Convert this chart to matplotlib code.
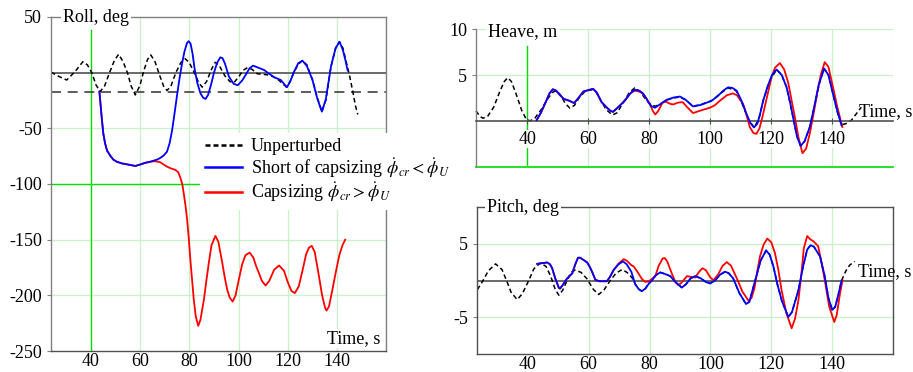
import matplotlib
matplotlib.use("Agg")
import matplotlib.pyplot as plt

plt.rcParams['font.family'] = ['Liberation Serif', 'DejaVu Serif']
plt.rcParams['mathtext.fontset'] = 'stix'
plt.rcParams['axes.unicode_minus'] = False

# ---------------- data: Roll ----------------
roll_unpert_t = [23.7, 26.5, 30.1, 33.5, 36.7, 38.5, 40.3, 42.0, 43.7, 45.5, 47.5, 49.5, 51.2, 53.0, 54.8,
                 56.3, 58.0, 59.8, 61.5, 63.0, 64.3, 66.0, 68.0, 69.5, 70.9, 72.5, 74.5, 76.5, 78.3, 80.0,
                 82.0, 83.8, 85.2, 87.0, 89.0, 90.5, 92.0, 94.5, 96.5, 98.1, 100.0, 101.8, 103.6, 105.5,
                 107.7, 110.0, 112.0, 114.0, 115.8, 117.5, 119.5, 121.0, 122.6, 124.5, 126.0, 127.8, 130.1,
                 132.0, 133.9, 135.5, 137.6, 139.5, 141.0, 142.5, 144.0, 145.1, 146.5, 147.5, 148.5]
roll_unpert_v = [0.5, -3, -6.6, 1, 9.9, 7, 0, -11, -17, -12, 0, 11, 16.5, 10, 0,
                 -12, -20, -12, 2, 12, 15.9, 10, -3, -12, -16, -12, 0, 9, 12.5, 9,
                 0, -9, -13, -8, 3, 9.3, 7, -3, -8, -9, -4, 2, 4.5, 3,
                 -1, -1.5, -2, -3.5, -5.6, -9, -13, -8, 0.9, 8, 10.8, 7, -6.6,
                 -22, -35, -25, 5.4, 22, 27.8, 22, 8, -2, -17, -29, -37.5]

roll_short_t = [43.4, 44.4, 45.0, 45.7, 46.5, 47.8, 49.0, 50.5, 52.5, 55.0, 58.0, 60.0, 62.0, 64.1,
                65.5, 67.0, 68.2, 69.5, 70.9, 72.0, 73.0, 74.0, 75.0, 76.0, 77.0, 78.0, 79.0, 79.7,
                80.5, 81.3, 82.1, 83.2, 84.5, 85.6, 86.6, 87.6, 88.8, 90.0, 91.3, 92.6, 93.5, 94.5,
                96.1, 98.0, 99.7, 101.5, 102.9, 104.5, 105.9, 108.0, 110.4, 112.5, 114.5, 117.2, 118.5,
                119.7, 121.0, 122.6, 124.3, 126.0, 127.8, 130.1, 132.0, 133.9, 135.5, 137.6, 139.5,
                141.1, 142.5, 143.5, 144.4]
roll_short_v = [-17, -42, -55, -63.4, -70, -74.5, -78, -80, -81.5, -82.5, -83.8, -82.5, -81, -80,
                -79, -78, -76.5, -74.5, -71, -63, -51.4, -36, -20, -5, 8, 19, 26.5, 28.3,
                26, 17, 4, -9, -18.5, -22.5, -23.6, -20, -11, 0, 9, 13.8, 13, 8,
                -3.6, -10, -11.3, -7, -2, 4, 6.3, 4.5, 2.4, -1, -4.1, -6.6, -10,
                -13.1, -8, 0.9, 8.5, 10.8, 6, -6.6, -23, -35, -24, 5.4, 22,
                27.8, 20, 11, 2]

roll_caps_t = [43.4, 44.4, 45.0, 45.7, 46.5, 47.8, 49.0, 50.5, 52.5, 55.0, 58.0, 60.0, 62.0, 64.1,
               66.0, 68.2, 69.5, 70.9, 72.5, 74.3, 75.5, 76.4, 77.1, 77.7, 78.4, 79.1, 79.8, 80.4,
               81.1, 81.8, 82.6, 83.6, 84.5, 85.2, 85.9, 86.9, 87.9, 89.0, 90.6, 91.8, 93.4, 94.4,
               95.4, 96.4, 97.6, 98.8, 100.1, 101.5, 102.8, 104.5, 106.0, 107.2, 108.3, 109.5, 111.0,
               112.5, 114.5, 116.5, 118.5, 120.0, 121.5, 122.9, 124.5, 126.0, 127.5, 128.7, 129.8,
               131.0, 132.5, 134.0, 135.2, 135.8, 136.8, 138.0, 139.5, 141.0, 142.3, 143.4]
roll_caps_v = [-17, -42, -55, -63.4, -70, -74.5, -78, -80, -81.5, -82.5, -83.8, -82.5, -81, -80,
               -79.5, -80.5, -82.5, -84.4, -86, -87.3, -89.5, -94.8, -100, -108.3, -119, -132.2, -150, -168,
               -186, -204, -219, -227.4, -222, -213, -204, -187, -171, -155, -146.6, -152, -171, -184,
               -195, -202, -205.6, -200, -186, -172, -164, -161.6, -166, -174, -180, -187, -191.2,
               -187, -177, -173.2, -178, -188, -196, -198, -192, -178, -163, -157, -155.6,
               -161, -180, -200, -211, -213.7, -210, -197, -180, -164, -155, -150]

roll_ref_level = -17.5

# ---------------- data: Heave ----------------
heave_unpert_t = [23.2, 24.5, 25.5, 27.0, 29.0, 31.0, 32.5, 33.6, 34.8, 36.3, 38.2, 39.5, 40.9, 42.5,
                  44.5, 46.5, 48.2, 49.6, 51.0, 52.5, 54.0, 55.5, 57.0, 58.9, 61.0, 62.5, 64.0, 66.0,
                  68.0, 69.5, 71.5, 73.5, 75.3, 77.0, 79.0, 80.5, 82.0, 84.0, 86.0, 88.0, 90.0, 92.0,
                  94.4, 97.0, 100.5, 103.0, 105.9, 108.5, 110.5, 112.5, 114.4, 116.0, 117.4, 119.5,
                  121.8, 123.5, 125.1, 127.2, 128.5, 129.7, 131.0, 132.7, 134.5, 136.0, 137.4, 139.0,
                  140.3, 141.8, 143.1, 144.5, 146.4, 148.0, 149.6]
heave_unpert_v = [1.1, 0.5, 0.3, 0.5, 1.5, 3.2, 4.3, 4.7, 4.3, 3.0, 1.15, 0.3, 0.0, 0.3,
                  1.2, 2.3, 3.1, 3.3, 2.8, 1.9, 1.4, 1.7, 2.5, 3.2, 3.4, 3.2, 2.3, 1.2,
                  0.65, 0.9, 2.0, 3.1, 3.6, 3.2, 2.3, 1.8, 1.6, 1.9, 2.3, 2.5, 2.6, 2.3,
                  1.6, 1.8, 2.2, 2.9, 3.6, 3.3, 1.9, 0.2, -0.7, 0.2, 2.2, 4.3,
                  5.6, 5.0, 3.66, 0.43, -1.7, -2.7, -2.2, -0.65, 2.0, 4.3, 5.7, 4.9,
                  2.95, 0.9, -0.4, -0.3, 0.1, 0.8, 1.5]

heave_short_t = [43.1, 44.5, 46.0, 47.3, 48.4, 49.5, 50.8, 52.0, 53.8, 55.4, 56.8, 58.4, 60.0, 61.6,
                 62.8, 64.4, 66.0, 67.3, 68.2, 69.5, 72.0, 73.8, 75.3, 76.8, 78.0, 79.0, 79.7, 80.8,
                 81.9, 83.5, 85.7, 88.0, 90.1, 92.0, 94.4, 97.0, 100.5, 102.5, 104.3, 105.9, 107.3,
                 108.7, 110.3, 111.9, 113.2, 114.4, 115.5, 116.5, 117.4, 118.8, 120.3, 121.8, 123.5,
                 125.1, 126.2, 127.2, 128.5, 129.7, 131.0, 132.7, 134.0, 135.6, 137.4, 138.8, 140.3,
                 141.8, 143.1]
heave_short_v = [0.1, 0.9, 2.0, 3.0, 3.45, 3.3, 2.8, 2.4, 2.2, 1.95, 2.5, 3.2, 3.35, 3.5,
                 3.1, 2.05, 1.5, 1.1, 1.0, 1.4, 2.2, 3.0, 3.4, 3.3, 3.0, 2.5, 2.05, 1.6,
                 1.44, 1.8, 2.3, 2.55, 2.66, 2.3, 1.58, 1.75, 2.2, 2.7, 3.3, 3.66, 3.6,
                 3.3, 2.2, 0.8, -0.2, -0.7, -0.3, 0.9, 2.2, 3.7, 5.0, 5.6, 5.0,
                 3.66, 2.1, 0.43, -1.7, -2.7, -2.2, -0.65, 1.3, 3.9, 5.7, 5.0, 2.95,
                 1.0, -0.46]

heave_caps_t = [43.1, 44.5, 46.0, 47.3, 48.4, 49.5, 50.8, 52.0, 53.8, 55.4, 56.8, 58.4, 60.0, 61.6,
                62.8, 64.4, 66.0, 67.3, 68.2, 69.5, 72.0, 73.8, 75.3, 76.8, 78.0, 79.2, 80.2, 81.2,
                82.0, 83.0, 84.4, 85.5, 87.0, 87.9, 89.5, 91.0, 92.5, 94.4, 96.5, 99.9, 101.5, 103.2,
                105.5, 107.5, 108.8, 110.8, 112.0, 113.0, 114.2, 115.2, 116.2, 117.2, 117.9, 119.0,
                120.1, 121.3, 122.9, 124.3, 125.6, 126.7, 127.8, 129.0, 130.3, 131.5, 132.7, 134.0,
                135.1, 136.3, 137.6, 138.8, 140.3, 141.8, 143.4]
heave_caps_v = [0.1, 0.9, 2.0, 3.0, 3.45, 3.3, 2.8, 2.4, 2.2, 1.95, 2.5, 3.2, 3.35, 3.5,
                3.1, 2.05, 1.5, 1.1, 1.0, 1.4, 2.2, 3.0, 3.3, 3.2, 2.95, 2.4, 1.87, 1.1,
                0.7, 1.1, 2.0, 2.1, 1.85, 1.8, 2.0, 2.05, 1.5, 0.86, 1.1, 1.44, 1.7, 2.2,
                2.8, 3.0, 2.8, 1.87, 0.6, -0.65, -1.3, -1.4, -0.8, 0.5, 1.5, 3.1,
                4.7, 5.8, 6.3, 5.6, 4.2, 2.3, 0.43, -1.8, -3.5, -3.0, -1.36, 0.9,
                2.95, 5.0, 6.4, 5.9, 3.7, 1.4, -0.65]

# ---------------- data: Pitch ----------------
pitch_unpert_t = [23.4, 25.0, 27.0, 29.4, 31.5, 33.0, 34.5, 36.5, 38.2, 40.3, 42.0, 44.2, 46.0, 47.5,
                  49.0, 50.2, 51.5, 52.9, 54.2, 55.6, 57.5, 59.5, 61.5, 63.3, 65.0, 67.1, 69.0, 71.0,
                  72.6, 74.2, 75.3, 76.5, 77.5, 78.6, 80.0, 80.8, 82.0, 83.5, 85.0, 86.8, 88.5, 90.6,
                  92.0, 93.5, 95.0, 96.8, 98.5, 99.9, 101.5, 103.2, 104.8, 106.0, 107.5, 109.5, 111.7,
                  112.8, 114.7, 116.5, 118.3, 119.5, 120.7, 122.0, 123.5, 125.6, 126.8, 128.9, 130.5,
                  131.8, 132.9, 134.0, 136.0, 137.5, 138.8, 140.0, 141.0, 142.0, 143.1, 144.5, 145.8, 147.4]
pitch_unpert_v = [-1.25, -0.2, 1.3, 2.26, 1.5, 0.0, -1.6, -2.6, -1.8, 0.0, 1.6, 2.4, 1.9, 0.6,
                  -1.2, -2.0, -1.3, 0.0, 1.1, 1.43, 1.1, 0.2, -1.2, -1.9, -1.3, 0.0, 1.0, 1.5,
                  1.1, 0.4, -0.5, -1.2, -1.45, -1.1, -0.3, 0.0, 0.7, 1.1, 0.9, 0.6, -0.2, -0.97,
                  -0.5, 0.3, 0.6, 0.3, -0.2, -0.4, 0.0, 0.8, 1.2, 1.0, 0.27, -1.7, -3.2,
                  -2.9, 0.0, 2.7, 4.1, 3.5, 1.9, -0.5, -2.8, -4.96, -4.3, -1.35, 2.0,
                  4.2, 4.8, 4.6, 3.3, 0.7, -2.4, -4.0, -3.6, -2.0, 0.0, 1.3, 2.1, 2.6]

pitch_short_t = [43.1, 44.5, 46.4, 47.3, 48.0, 49.0, 50.2, 50.6, 51.5, 52.9, 54.6, 55.6, 56.5, 57.2,
                 58.3, 59.5, 60.3, 61.1, 62.2, 63.5, 66.0, 67.0, 68.2, 69.8, 71.3, 72.5, 74.0, 75.3,
                 76.5, 77.5, 78.6, 80.0, 80.8, 82.0, 83.5, 85.0, 86.8, 88.5, 90.6, 92.0, 93.5, 95.0,
                 96.8, 98.5, 99.9, 101.5, 103.2, 104.8, 106.0, 107.5, 109.5, 111.7, 112.8, 114.7,
                 116.5, 118.3, 119.5, 120.7, 122.0, 123.5, 125.6, 126.8, 128.9, 130.5, 131.8, 132.9,
                 134.0, 136.0, 137.5, 138.8, 140.0, 141.0, 142.0, 143.1]
pitch_short_v = [2.26, 2.35, 2.45, 2.2, 1.67, 0.3, -1.0, -1.1, -0.6, 0.27, 0.97, 2.2, 3.1, 3.1,
                 2.8, 2.45, 1.9, 1.2, 0.1, -0.1, -0.1, 0.5, 1.43, 2.2, 2.6, 2.2, 1.2, -0.5,
                 -1.2, -1.45, -1.1, -0.3, 0.0, 0.7, 1.1, 0.9, 0.6, -0.2, -0.97, -0.5, 0.3, 0.6,
                 0.3, -0.2, -0.4, 0.0, 0.8, 1.2, 1.0, 0.27, -1.7, -3.2, -2.9, 0.0,
                 2.7, 4.1, 3.5, 1.9, -0.5, -2.8, -4.96, -4.3, -1.35, 2.0, 4.2, 4.8,
                 4.6, 3.3, 0.7, -2.4, -4.0, -3.6, -2.0, 0.0]

pitch_caps_t = [43.1, 44.5, 46.4, 47.3, 48.0, 49.0, 50.2, 50.6, 51.5, 52.9, 54.6, 55.6, 56.5, 57.2,
                58.3, 59.5, 60.3, 61.1, 62.2, 63.5, 66.0, 67.0, 68.2, 69.8, 71.5, 72.5, 74.0, 74.8,
                76.0, 77.5, 78.6, 79.8, 81.0, 81.9, 83.0, 84.3, 85.0, 85.8, 87.3, 88.5, 89.5, 90.5,
                92.3, 93.5, 95.0, 96.3, 97.4, 98.5, 100.0, 101.0, 102.5, 104.0, 105.4, 106.8, 108.7,
                110.5, 112.5, 113.5, 114.5, 115.5, 116.3, 117.5, 118.7, 120.0, 121.2, 122.3, 123.4,
                125.0, 126.7, 127.8, 128.9, 129.8, 130.7, 131.8, 132.8, 133.8, 135.4, 136.5, 137.6,
                139.0, 140.7, 141.5, 142.5, 143.4]
pitch_caps_v = [2.26, 2.35, 2.45, 2.2, 1.67, 0.3, -1.0, -1.1, -0.6, 0.27, 0.97, 2.2, 3.1, 3.1,
                2.8, 2.45, 1.9, 1.2, 0.1, -0.1, -0.1, 0.5, 1.43, 2.3, 2.9, 2.7, 2.1, 1.9,
                1.2, 0.2, -0.2, -0.1, 0.3, 0.6, 2.0, 3.0, 3.05, 2.6, 0.97, -0.2, -0.65, -0.3,
                0.6, 0.5, 0.4, 1.2, 1.67, 1.4, 0.4, 0.04, 0.8, 2.0, 2.5, 2.0, 0.27,
                -1.5, -2.74, -2.4, -1.0, 1.5, 3.3, 4.9, 5.7, 5.2, 3.75, 1.5, -1.35,
                -4.5, -6.5, -5.2, -2.74, 0.5, 4.4, 6.05, 5.6, 5.36, 4.67, 2.5, 0.0,
                -3.5, -5.65, -4.7, -2.0, 0.04]

x_ticks = [40, 60, 80, 100, 120, 140]
x_grid = [60, 80, 100, 120, 140, 160]
roll_yticks = [50, -50, -100, -150, -200, -250]
heave_yticks = [10, 5]
pitch_yticks = [5, -5]

labels = ['Unperturbed',
          r'Short of capsizing $\dot{\phi}_{cr} < \dot{\phi}_U$',
          r'Capsizing $\dot{\phi}_{cr} > \dot{\phi}_U$']

# ---------------- style ----------------
GRID = '#c8f2c8'
BRIGHT = '#00dd00'
SPINE = '#808080'
DARK = '#505050'
FS = 13
W, H = 913, 372

fig = plt.figure(figsize=(W / 100, H / 100), dpi=100)


def fx(px):
    return px / W


def fy(py):
    return 1 - py / H


def style_ticks(ax):
    ax.tick_params(axis='both', labelsize=FS, colors='black', length=3, width=0.8)
    ax.tick_params(axis='both', color=SPINE)
    ax.tick_params(axis='x', length=0, pad=1.5)
    for s in ax.spines.values():
        s.set_color(SPINE)
        s.set_linewidth(1.0)


# ---- Roll ----
ax1 = fig.add_axes([fx(51), fy(351), fx(386) - fx(51), fy(17) - fy(351)])
ax1.set_xlim(23.7, 160)
ax1.set_ylim(-250, 50)
for g in x_grid:
    ax1.axvline(g, color=GRID, lw=0.9, zorder=0)
for g in [-50, -150, -200]:
    ax1.axhline(g, color=GRID, lw=0.9, zorder=0)
ax1.axvline(40, ymin=0, ymax=(38 + 250) / 300, color=BRIGHT, lw=1.0, zorder=0.5)
ax1.axhline(-100, color=BRIGHT, lw=1.0, zorder=0.5)
ax1.axhline(0, color=DARK, lw=1.2, zorder=1)
ax1.axhline(roll_ref_level, color='#404040', lw=1.2, dashes=(6, 4), zorder=1)
l0, = ax1.plot(roll_unpert_t, roll_unpert_v, color='black', lw=1.1, dashes=(3, 2), zorder=2)
l2, = ax1.plot(roll_caps_t, roll_caps_v, color='#ff0000', lw=1.3, zorder=3)
l1, = ax1.plot(roll_short_t, roll_short_v, color='#0000ff', lw=1.3, zorder=4)
ax1.set_xticks(x_ticks)
ax1.set_yticks(roll_yticks)
ax1.set_yticklabels([str(v) for v in roll_yticks])
style_ticks(ax1)
ax1.spines['bottom'].set_color(DARK)
ax1.text(0.035, 1.0, 'Roll, deg', transform=ax1.transAxes, ha='left', va='center', fontsize=FS,
         bbox=dict(facecolor='white', edgecolor='none', pad=1.5), zorder=10, clip_on=False)
ax1.text(0.982, 0.024, 'Time, s', transform=ax1.transAxes, ha='right', va='baseline', fontsize=FS,
         bbox=dict(facecolor='white', edgecolor='none', pad=0.5), zorder=10)
leg = ax1.legend([l0, l1, l2], labels, loc='upper left', bbox_to_anchor=(fx(200), fy(133)),
                 bbox_transform=fig.transFigure, frameon=True, fancybox=False, framealpha=1,
                 edgecolor='none', fontsize=FS, handlelength=2.0, handletextpad=0.5,
                 labelspacing=0.02, borderpad=0.3, borderaxespad=0)
leg.set_zorder(20)
for ln in leg.get_lines():
    ln.set_linewidth(1.8)
leg.get_lines()[0].set_dashes((2, 1.2))

# ---- Heave ----
ax2 = fig.add_axes([fx(476), fy(167), fx(893) - fx(476), fy(29) - fy(167)])
ax2.set_xlim(23.2, 160)
ax2.set_ylim(-5, 10)
for g in x_grid:
    ax2.axvline(g, color=GRID, lw=0.9, zorder=0)
ax2.axhline(10, color=GRID, lw=0.9, zorder=0)
ax2.axhline(5, color=GRID, lw=0.9, zorder=0)
ax2.axhline(-5, color=BRIGHT, lw=1.2, zorder=0.5, clip_on=False)
ax2.axvline(40, ymin=0, ymax=(8.2 + 5) / 15, color=BRIGHT, lw=1.0, zorder=0.5)
ax2.plot(heave_unpert_t, heave_unpert_v, color='black', lw=1.1, dashes=(3, 2), zorder=2, clip_on=False)
ax2.plot(heave_caps_t, heave_caps_v, color='#ff0000', lw=1.3, zorder=3)
ax2.plot(heave_short_t, heave_short_v, color='#0000ff', lw=1.3, zorder=4)
ax2.set_xticks(x_ticks)
ax2.set_yticks(heave_yticks)
ax2.set_yticklabels([str(v) for v in heave_yticks])
style_ticks(ax2)
ax2.spines['top'].set_visible(False)
ax2.spines['right'].set_visible(False)
ax2.spines['bottom'].set_position(('data', 0))
ax2.spines['bottom'].set_color(DARK)
ax2.spines['bottom'].set_linewidth(1.2)
ax2.tick_params(axis='x', direction='inout', length=5, pad=4.5, color=DARK)
for lbl in ax2.get_xticklabels():
    lbl.set_bbox(dict(facecolor='white', edgecolor='none', pad=0.5))
fig.text(fx(488), fy(32), 'Heave, m', ha='left', va='center', fontsize=FS,
         bbox=dict(facecolor='white', edgecolor='none', pad=1.5), zorder=10)
fig.text(fx(859), fy(112), 'Time, s', ha='left', va='center', fontsize=FS, zorder=10)

# ---- Pitch ----
ax3 = fig.add_axes([fx(477), fy(354), fx(893) - fx(477), fy(207) - fy(354)])
ax3.set_xlim(23.3, 160)
ax3.set_ylim(-10, 10)
for g in x_grid:
    ax3.axvline(g, color=GRID, lw=0.9, zorder=0)
for g in [5, -5]:
    ax3.axhline(g, color=GRID, lw=0.9, zorder=0)
ax3.axhline(0, color=DARK, lw=1.2, zorder=1)
ax3.plot(pitch_unpert_t, pitch_unpert_v, color='black', lw=1.1, dashes=(3, 2), zorder=2)
ax3.plot(pitch_caps_t, pitch_caps_v, color='#ff0000', lw=1.3, zorder=3)
ax3.plot(pitch_short_t, pitch_short_v, color='#0000ff', lw=1.3, zorder=4)
ax3.set_xticks(x_ticks)
ax3.set_yticks(pitch_yticks)
ax3.set_yticklabels([str(v) for v in pitch_yticks])
style_ticks(ax3)
for k in ['top', 'right', 'bottom', 'left']:
    ax3.spines[k].set_color(DARK)
fig.text(fx(487), fy(208), 'Pitch, deg', ha='left', va='center', fontsize=FS,
         bbox=dict(facecolor='white', edgecolor='none', pad=1.5), zorder=10)
fig.text(fx(858), fy(272), 'Time, s', ha='left', va='center', fontsize=FS, zorder=10)

fig.savefig('out.png', dpi=100)
